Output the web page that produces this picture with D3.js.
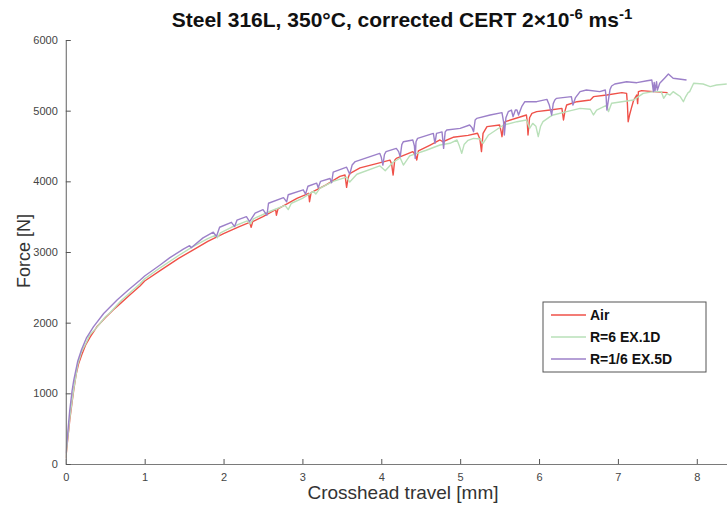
<!DOCTYPE html>
<html>
<head>
<meta charset="utf-8">
<script src="https://cdn.jsdelivr.net/npm/d3@7"></script>
<style>
  body { margin: 0; background: #fff; }
  svg { display: block; font-family: "Liberation Sans", Arial, sans-serif; }
</style>
</head>
<body>
<div id="chart"></div>
<script>
// series names and colours
const seriesNames = ["Air", "R=6 EX.1D", "R=1/6 EX.5D"];
const seriesColors = ["#ef5149", "#b9e0b9", "#9c80c9"];

// Air : [crosshead travel mm, force N]
const airData = [
  [0, 80], [0.02, 300], [0.05, 620], [0.08, 880], [0.1, 1040], [0.13, 1260], [0.16, 1410],
  [0.2, 1540], [0.25, 1680], [0.31, 1800], [0.4, 1950], [0.5, 2070], [0.6, 2180], [0.7, 2280],
  [0.8, 2380], [0.94, 2520], [1.0, 2590], [1.2, 2740], [1.43, 2910], [1.6, 3020], [1.8, 3150],
  [2.0, 3260], [2.2, 3360], [2.33, 3420], [2.35, 3350], [2.37, 3430], [2.5, 3500],
  [2.66, 3600], [2.67, 3520], [2.69, 3610], [2.93, 3760], [3.08, 3830], [3.09, 3712],
  [3.11, 3840], [3.3, 3950], [3.475, 4070], [3.54, 4090], [3.56, 3915], [3.58, 4050],
  [3.6, 4110], [3.73, 4190], [3.94, 4250], [4.11, 4300], [4.13, 4250], [4.15, 4089],
  [4.17, 4300], [4.19, 4325], [4.4, 4419], [4.43, 4380], [4.45, 4302], [4.47, 4430],
  [4.49, 4443], [4.62, 4514], [4.744, 4585], [4.78, 4560], [4.91, 4623], [5.1, 4650],
  [5.22, 4680], [5.25, 4600], [5.27, 4420], [5.29, 4679], [5.34, 4774], [5.5, 4797],
  [5.52, 4700], [5.53, 4632], [5.55, 4800], [5.57, 4844], [5.84, 4939], [5.85, 4850],
  [5.86, 4656], [5.88, 4900], [5.91, 4962], [5.97, 4986], [6.14, 5009], [6.29, 5033],
  [6.31, 4868], [6.33, 5000], [6.35, 5080], [6.48, 5127], [6.65, 5151], [6.69, 5198],
  [6.86, 5222], [7.05, 5255], [7.11, 5245], [7.12, 5100], [7.13, 4844], [7.15, 4950],
  [7.17, 5033], [7.2, 5150], [7.24, 5222], [7.25, 5100], [7.26, 5269], [7.3, 5283],
  [7.45, 5269], [7.63, 5255]
];

// R=6 EX.1D
const r6Data = [
  [0, 90], [0.02, 320], [0.05, 650], [0.08, 900], [0.1, 1060], [0.15, 1400], [0.2, 1590],
  [0.26, 1720], [0.3, 1820], [0.39, 1930], [0.5, 2080], [0.56, 2140], [0.7, 2310],
  [0.94, 2550], [1.0, 2620], [1.2, 2780], [1.43, 2950], [1.6, 3070], [1.8, 3190],
  [1.9, 3240], [1.92, 3200], [1.96, 3270], [2.1, 3350], [2.3, 3440], [2.34, 3400],
  [2.38, 3470], [2.6, 3580], [2.78, 3660], [2.82, 3600], [2.86, 3690], [3.0, 3760],
  [3.14, 3860], [3.17, 3820], [3.22, 3900], [3.39, 4000], [3.56, 4060], [3.6, 3990],
  [3.69, 4100], [3.98, 4220], [4.05, 4150], [4.15, 4270], [4.24, 4330], [4.28, 4230],
  [4.36, 4360], [4.57, 4440], [4.744, 4514], [4.87, 4538], [4.96, 4585], [4.99, 4500],
  [5.02, 4396], [5.05, 4520], [5.1, 4580], [5.17, 4608], [5.25, 4600], [5.29, 4538],
  [5.36, 4656], [5.55, 4797], [5.72, 4844], [5.84, 4868], [5.88, 4750], [5.92, 4820],
  [5.96, 4780], [5.99, 4632], [6.02, 4780], [6.05, 4844], [6.14, 4915], [6.18, 4939],
  [6.35, 4986], [6.52, 5033], [6.65, 5020], [6.69, 4939], [6.73, 5009], [6.86, 5080],
  [6.88, 4986], [6.92, 5104], [7.2, 5151], [7.26, 5198], [7.32, 5245], [7.45, 5269],
  [7.55, 5269], [7.58, 5175], [7.62, 5240], [7.66, 5222], [7.7, 5269], [7.75, 5230],
  [7.79, 5200], [7.83, 5127], [7.86, 5200], [7.89, 5255], [7.91, 5269], [7.96, 5387],
  [8.08, 5377], [8.17, 5340], [8.25, 5363], [8.38, 5377]
];

// R=1/6 EX.5D
const r16Data = [
  [0, 150], [0.02, 380], [0.05, 760], [0.08, 1040], [0.1, 1180], [0.15, 1450], [0.2, 1620],
  [0.26, 1780], [0.35, 1940], [0.48, 2130], [0.65, 2320], [0.8, 2470], [0.94, 2600],
  [1.0, 2660], [1.2, 2820], [1.32, 2920], [1.49, 3040], [1.57, 3090], [1.59, 3060],
  [1.74, 3200], [1.87, 3280], [1.91, 3220], [1.95, 3350], [2.1, 3420], [2.14, 3360],
  [2.17, 3450], [2.29, 3500], [2.33, 3430], [2.4, 3550], [2.5, 3600], [2.55, 3520],
  [2.57, 3690], [2.76, 3770], [2.8, 3710], [2.82, 3810], [3.01, 3880], [3.04, 3820],
  [3.07, 3930], [3.18, 3975], [3.2, 3910], [3.23, 4000], [3.35, 4040], [3.37, 3980],
  [3.39, 4130], [3.56, 4200], [3.58, 4150], [3.6, 4100], [3.63, 4230], [3.67, 4280],
  [3.98, 4396], [4.0, 4340], [4.02, 4230], [4.04, 4380], [4.06, 4420], [4.19, 4466],
  [4.22, 4420], [4.24, 4349], [4.26, 4520], [4.28, 4561], [4.4, 4584], [4.42, 4500],
  [4.43, 4325], [4.44, 4560], [4.46, 4608], [4.66, 4679], [4.68, 4537], [4.7, 4679],
  [4.77, 4700], [4.79, 4467], [4.81, 4700], [4.83, 4726], [5.0, 4750], [5.12, 4797],
  [5.15, 4760], [5.17, 4703], [5.19, 4868], [5.21, 4891], [5.38, 4939], [5.53, 4972],
  [5.55, 4844], [5.56, 4656], [5.58, 4900], [5.61, 4986], [5.65, 5009], [5.67, 4915],
  [5.7, 5009], [5.72, 5009], [5.74, 4939], [5.78, 5057], [5.82, 5127], [5.97, 5127],
  [6.1, 5160], [6.13, 5080], [6.14, 5033], [6.16, 4939], [6.18, 5100], [6.2, 5151],
  [6.22, 5174], [6.41, 5198], [6.43, 5080], [6.46, 5180], [6.52, 5269], [6.6, 5292],
  [6.77, 5269], [6.84, 5292], [6.85, 5200], [6.86, 5009], [6.9, 5300], [6.92, 5349],
  [6.96, 5377], [7.11, 5410], [7.24, 5396], [7.37, 5424], [7.43, 5434], [7.45, 5269],
  [7.46, 5400], [7.47, 5280], [7.49, 5410], [7.5, 5290], [7.53, 5387], [7.6, 5470],
  [7.64, 5519], [7.7, 5458], [7.87, 5434]
];

const allSeries = [airData, r6Data, r16Data];

const xTicks = [0, 1, 2, 3, 4, 5, 6, 7, 8];
const yTicks = [0, 1000, 2000, 3000, 4000, 5000, 6000];

const width = 727, height = 506;

const svg = d3.select("#chart").append("svg")
  .attr("width", width)
  .attr("height", height);

// scales: x 0..8 spans 65.8 -> 696.8, plot runs off the right edge
const x = d3.scaleLinear().domain([0, 8.383]).range([65.8, 727]);
const y = d3.scaleLinear().domain([0, 6000]).range([464, 40]);

// clip the curves to the plot area
svg.append("clipPath").attr("id", "plotClip")
  .append("rect").attr("x", 65.8).attr("y", 40).attr("width", 661.2).attr("height", 424);

// lines
const line = d3.line()
  .x(d => x(d[0]))
  .y(d => y(d[1]));

svg.append("g").attr("clip-path", "url(#plotClip)")
  .selectAll("path")
  .data(allSeries)
  .enter()
  .append("path")
  .attr("d", line)
  .attr("fill", "none")
  .attr("stroke", (d, i) => seriesColors[i])
  .attr("stroke-width", 1.4)
  .attr("stroke-linejoin", "round");

// axes, MATLAB style ticks pointing inward
const xAxis = svg.append("g")
  .attr("transform", "translate(0," + y(0) + ")")
  .call(d3.axisBottom(x).tickValues(xTicks).tickFormat(d3.format("d"))
    .tickSize(-5).tickPadding(9).tickSizeOuter(0));

const yAxis = svg.append("g")
  .attr("transform", "translate(" + x(0) + ",0)")
  .call(d3.axisLeft(y).tickValues(yTicks).tickFormat(d3.format("d"))
    .tickSize(-5).tickPadding(8).tickSizeOuter(0));

[xAxis, yAxis].forEach(function (ax) {
  ax.select(".domain").attr("stroke", "#7a7a7a").attr("stroke-width", 1.2);
  ax.selectAll(".tick line").attr("stroke", "#555");
  ax.selectAll(".tick text")
    .attr("fill", "#444")
    .style("font-size", "11px");
});

// title
const title = svg.append("text")
  .attr("x", 402)
  .attr("y", 27)
  .attr("text-anchor", "middle")
  .style("font-size", "21px")
  .style("font-weight", "bold")
  .attr("fill", "#111");

title.append("tspan").text("Steel 316L, 350°C, corrected CERT 2×10");
title.append("tspan").attr("dy", -8).style("font-size", "15px").text("-6");
title.append("tspan").attr("dy", 8).text(" ms");
title.append("tspan").attr("dy", -8).style("font-size", "15px").text("-1");

// axis labels
svg.append("text")
  .attr("x", 403)
  .attr("y", 499)
  .attr("text-anchor", "middle")
  .style("font-size", "19px")
  .attr("fill", "#333")
  .text("Crosshead travel [mm]");

svg.append("text")
  .attr("transform", "translate(30,251) rotate(-90)")
  .attr("text-anchor", "middle")
  .style("font-size", "18px")
  .attr("fill", "#333")
  .text("Force [N]");

// legend
const legend = svg.append("g").attr("transform", "translate(543,302)");

legend.append("rect")
  .attr("width", 163)
  .attr("height", 70)
  .attr("fill", "#fff")
  .attr("stroke", "#555")
  .attr("stroke-width", 1);

const items = legend.selectAll(".item")
  .data(seriesNames)
  .enter()
  .append("g")
  .attr("transform", (d, i) => "translate(0," + (13 + i * 22) + ")");

items.append("line")
  .attr("x1", 8).attr("x2", 43)
  .attr("y1", 0).attr("y2", 0)
  .attr("stroke", (d, i) => seriesColors[i])
  .attr("stroke-width", 1.3);

items.append("text")
  .attr("x", 47)
  .attr("y", 5)
  .style("font-size", "14px")
  .style("font-weight", "bold")
  .attr("fill", "#111")
  .text(d => d);
</script>
</body>
</html>
